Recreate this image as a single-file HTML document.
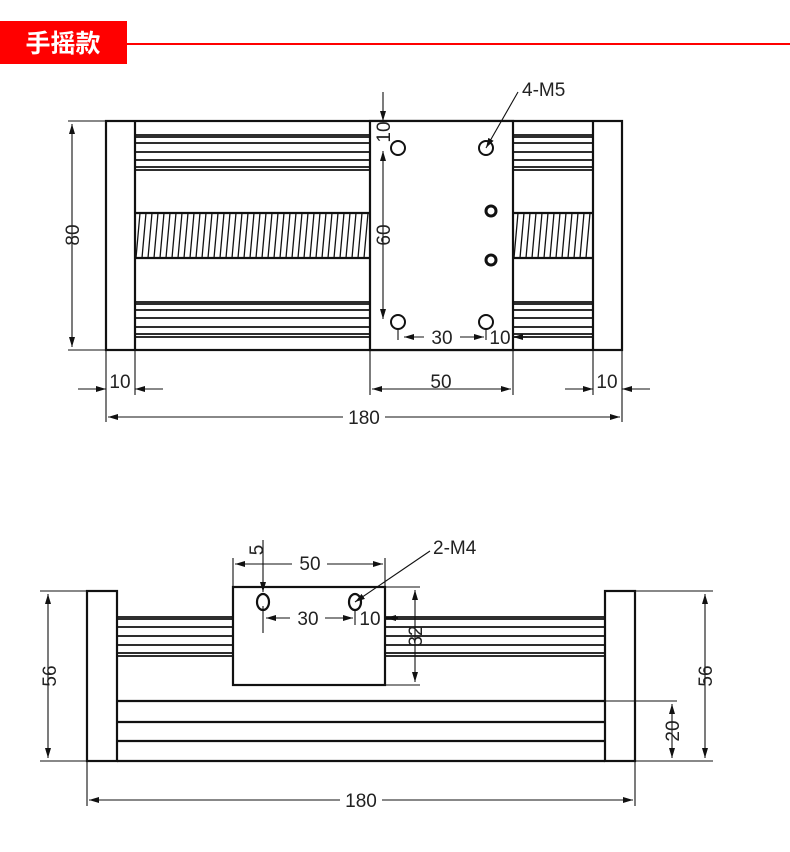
<!DOCTYPE html>
<html><head><meta charset="utf-8"><style>
body{margin:0;background:#fff;width:790px;height:852px;overflow:hidden}
svg{display:block}
text{font-family:"Liberation Sans",Arial,sans-serif;font-size:19px;fill:#222}
</style></head><body>
<svg width="790" height="852" viewBox="0 0 790 852">
<defs>
<marker id="a" viewBox="0 0 10 6" refX="10" refY="3" markerWidth="10" markerHeight="6" orient="auto-start-reverse" markerUnits="userSpaceOnUse"><path d="M0,0 L10,3 L0,6 z" fill="#111"/></marker>
</defs>
<rect x="0" y="21" width="127" height="43" fill="#ff0000"/>
<text x="63" y="52" text-anchor="middle" style="font-family:'Noto Sans CJK SC',sans-serif;font-size:25px;font-weight:bold;fill:#fff">手摇款</text>
<line x1="127" y1="44" x2="790" y2="44" stroke="#ff0000" stroke-width="2"/>

<!-- TOP VIEW -->
<g stroke="#111" fill="none">
<g stroke-width="2.2">
<rect x="106" y="121" width="516" height="229"/>
<line x1="135" y1="121" x2="135" y2="350"/><line x1="593" y1="121" x2="593" y2="350"/>
<rect x="370" y="121" width="143" height="229" fill="#fff"/>
</g>
<g stroke-width="1.8">
<path d="M135 135H370M135 137H370M135 143H370M135 152H370M135 160H370M135 167H370M135 170H370"/>
<path d="M513 135H593M513 137H593M513 143H593M513 152H593M513 160H593M513 167H593M513 170H593"/>
<path d="M135 302H370M135 304H370M135 310H370M135 318H370M135 327H370M135 334H370M135 337H370"/>
<path d="M513 302H593M513 304H593M513 310H593M513 318H593M513 327H593M513 334H593M513 337H593"/>
<path d="M135 213H370M135 258H370M513 213H593M513 258H593" stroke-width="2.2"/>
</g>
<path stroke-width="1.3" d="
M140 213l-4 45M146 213l-4 45M152 213l-4 45M158 213l-4 45M164 213l-4 45M170 213l-4 45M176 213l-4 45M182 213l-4 45M188 213l-4 45M194 213l-4 45M200 213l-4 45M206 213l-4 45M212 213l-4 45M218 213l-4 45M224 213l-4 45M230 213l-4 45M236 213l-4 45M242 213l-4 45M248 213l-4 45M254 213l-4 45M260 213l-4 45M266 213l-4 45M272 213l-4 45M278 213l-4 45M284 213l-4 45M290 213l-4 45M296 213l-4 45M302 213l-4 45M308 213l-4 45M314 213l-4 45M320 213l-4 45M326 213l-4 45M332 213l-4 45M338 213l-4 45M344 213l-4 45M350 213l-4 45M356 213l-4 45M362 213l-4 45M368 213l-4 45
M518 213l-4 45M524 213l-4 45M530 213l-4 45M536 213l-4 45M542 213l-4 45M548 213l-4 45M554 213l-4 45M560 213l-4 45M566 213l-4 45M572 213l-4 45M578 213l-4 45M584 213l-4 45M590 213l-4 45"/>
<g stroke-width="2">
<circle cx="398" cy="148" r="7"/><circle cx="486" cy="148" r="7"/>
<circle cx="398" cy="322" r="7"/><circle cx="486" cy="322" r="7"/>
<circle cx="491" cy="211" r="5" stroke-width="3"/><circle cx="491" cy="260" r="5" stroke-width="3"/>
</g>
<g stroke-width="1.1">
<path d="M68 121H106M68 350H106"/>
<line x1="72" y1="124" x2="72" y2="347" marker-start="url(#a)" marker-end="url(#a)"/>
<line x1="383" y1="92" x2="383" y2="121" marker-end="url(#a)"/>
<line x1="383" y1="151" x2="383" y2="319" marker-start="url(#a)" marker-end="url(#a)"/>
<line x1="398" y1="328" x2="398" y2="340"/><line x1="486" y1="328" x2="486" y2="340"/>
<line x1="404" y1="337" x2="424" y2="337" marker-start="url(#a)"/>
<line x1="460" y1="337" x2="484" y2="337" marker-end="url(#a)"/>
<line x1="527" y1="337" x2="513" y2="337" marker-end="url(#a)"/>
<line x1="486" y1="148" x2="518" y2="92" marker-start="url(#a)"/>
<path d="M106 350V422M135 350V395M370 350V395M513 350V395M593 350V395M622 350V422"/>
<line x1="78" y1="389" x2="106" y2="389" marker-end="url(#a)"/>
<line x1="163" y1="389" x2="135" y2="389" marker-end="url(#a)"/>
<line x1="565" y1="389" x2="593" y2="389" marker-end="url(#a)"/>
<line x1="650" y1="389" x2="622" y2="389" marker-end="url(#a)"/>
<line x1="372" y1="389" x2="511" y2="389" marker-start="url(#a)" marker-end="url(#a)"/>
<line x1="108" y1="417" x2="343" y2="417" marker-start="url(#a)"/>
<line x1="385" y1="417" x2="620" y2="417" marker-end="url(#a)"/>
</g>
</g>
<text x="0" y="0" transform="translate(79,235) rotate(-90)" text-anchor="middle">80</text>
<text x="0" y="0" transform="translate(390,235) rotate(-90)" text-anchor="middle">60</text>
<text x="0" y="0" transform="translate(390,132) rotate(-90)" text-anchor="middle">10</text>
<text x="442" y="344" text-anchor="middle">30</text>
<text x="500" y="344" text-anchor="middle">10</text>
<text x="522" y="96">4-M5</text>
<text x="120" y="388" text-anchor="middle">10</text>
<text x="441" y="388" text-anchor="middle">50</text>
<text x="607" y="388" text-anchor="middle">10</text>
<text x="364" y="424" text-anchor="middle">180</text>

<!-- FRONT VIEW -->
<g stroke="#111" fill="none">
<g stroke-width="1.8">
<path d="M117 617H605M117 619H605M117 627H605M117 636H605M117 645H605M117 653H605M117 656H605"/>
<path d="M117 701H605M117 722H605M117 741H605" stroke-width="2.2"/>
</g>
<g stroke-width="2.2">
<rect x="87" y="591" width="30" height="170" fill="#fff"/>
<rect x="605" y="591" width="30" height="170" fill="#fff"/>
<line x1="117" y1="761" x2="605" y2="761"/>
<rect x="233" y="587" width="152" height="98" fill="#fff"/>
<ellipse cx="263" cy="602" rx="6" ry="8"/><ellipse cx="355" cy="602" rx="6" ry="8"/>
</g>
<g stroke-width="1.1">
<path d="M40 591H87M40 761H87M635 591H713M635 761H713M605 701H677M385 587H420M385 685H420M233 587V558M385 587V558M87 761V806M635 761V806"/>
<line x1="48" y1="594" x2="48" y2="758" marker-start="url(#a)" marker-end="url(#a)"/>
<line x1="705" y1="594" x2="705" y2="758" marker-start="url(#a)" marker-end="url(#a)"/>
<line x1="672" y1="704" x2="672" y2="758" marker-start="url(#a)" marker-end="url(#a)"/>
<line x1="415" y1="590" x2="415" y2="682" marker-start="url(#a)" marker-end="url(#a)"/>
<line x1="235" y1="564" x2="292" y2="564" marker-start="url(#a)"/>
<line x1="327" y1="564" x2="383" y2="564" marker-end="url(#a)"/>
<line x1="263" y1="540" x2="263" y2="592" marker-end="url(#a)"/>
<line x1="263" y1="606" x2="263" y2="633"/><line x1="355" y1="610" x2="355" y2="625"/>
<line x1="266" y1="618" x2="290" y2="618" marker-start="url(#a)"/>
<line x1="325" y1="618" x2="353" y2="618" marker-end="url(#a)"/>
<line x1="398" y1="618" x2="386" y2="618" marker-end="url(#a)"/>
<line x1="355" y1="602" x2="430" y2="551" marker-start="url(#a)"/>
<line x1="89" y1="800" x2="340" y2="800" marker-start="url(#a)"/>
<line x1="382" y1="800" x2="633" y2="800" marker-end="url(#a)"/>
</g>
</g>
<text x="0" y="0" transform="translate(56,676) rotate(-90)" text-anchor="middle">56</text>
<text x="0" y="0" transform="translate(712,676) rotate(-90)" text-anchor="middle">56</text>
<text x="0" y="0" transform="translate(679,731) rotate(-90)" text-anchor="middle">20</text>
<text x="0" y="0" transform="translate(422,636) rotate(-90)" text-anchor="middle">32</text>
<text x="0" y="0" transform="translate(263,550) rotate(-90)" text-anchor="middle">5</text>
<text x="310" y="570" text-anchor="middle">50</text>
<text x="308" y="625" text-anchor="middle">30</text>
<text x="370" y="625" text-anchor="middle">10</text>
<text x="433" y="554">2-M4</text>
<text x="361" y="807" text-anchor="middle">180</text>
</svg>
</body></html>
